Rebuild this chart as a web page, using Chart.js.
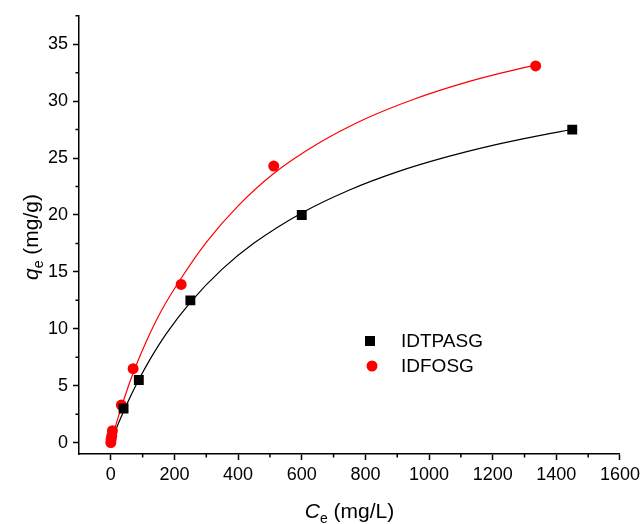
<!DOCTYPE html>
<html>
<head>
<meta charset="utf-8">
<script src="https://cdn.jsdelivr.net/npm/chart.js@4"></script>
<style>
  body { margin: 0; background: #fff; }
  canvas { display: block; }
</style>
</head>
<body>
<canvas id="grafica" width="644" height="524"></canvas>
<script>
// measured points
const idtpasgX = [40, 88, 250, 600, 1450];
const idtpasgY = [3.0, 5.5, 12.5, 20.0, 27.5];
const idfosgX = [0, 1, 3, 5, 33, 70, 221, 512, 1335];
const idfosgY = [0.0, 0.3, 0.6, 1.05, 3.3, 6.5, 13.9, 24.3, 33.1];

// fitted curves
const curvaNegraX = [0, 10, 25, 50, 85, 125, 175, 250, 350, 450, 600, 750, 900, 1050, 1200, 1350, 1450];
const curvaNegraY = [0, 0.72, 1.76, 3.36, 5.37, 7.4, 9.6, 12.33, 15.24, 17.53, 20.18, 22.2, 23.79, 25.06, 26.12, 27.0, 27.51];
const curvaRojaX = [0, 10, 25, 50, 75, 110, 160, 220, 300, 400, 510, 650, 800, 950, 1100, 1225, 1335];
const curvaRojaY = [0, 0.99, 2.39, 4.54, 6.47, 8.8, 11.65, 14.4, 17.6, 20.8, 23.6, 26.25, 28.45, 30.15, 31.52, 32.46, 33.19];

const xMajor = [0, 200, 400, 600, 800, 1000, 1200, 1400, 1600];
const yMajor = [0, 5, 10, 15, 20, 25, 30, 35];
const xMinor = [100, 300, 500, 700, 900, 1100, 1300, 1500];
const yMinor = [2.5, 7.5, 12.5, 17.5, 22.5, 27.5, 32.5, 37.5];

const nombres = ["IDTPASG", "IDFOSG"];

function puntos(xs, ys) {
  return xs.map((x, i) => ({ x: x, y: ys[i] }));
}

const fuente = "'Liberation Sans', Arial, sans-serif";

const extras = {
  id: "extras",
  afterDraw(chart) {
    const ctx = chart.ctx;
    const xs = chart.scales.x, ys = chart.scales.y;
    ctx.save();
    ctx.strokeStyle = "#000";
    ctx.lineWidth = 1.5;
    // minor ticks
    ctx.beginPath();
    xMinor.forEach(v => {
      const px = xs.getPixelForValue(v);
      ctx.moveTo(px, xs.top);
      ctx.lineTo(px, xs.top + 3.5);
    });
    yMinor.forEach(v => {
      const py = ys.getPixelForValue(v);
      ctx.moveTo(ys.right, py);
      ctx.lineTo(ys.right - 3.5, py);
    });
    ctx.stroke();

    // axis titles
    ctx.fillStyle = "#000";
    ctx.textBaseline = "alphabetic";
    const cx = (chart.chartArea.left + chart.chartArea.right) / 2;
    let partes = [
      { t: "C", f: "italic 21px " + fuente, dy: 0 },
      { t: "e", f: "14px " + fuente, dy: 5 },
      { t: " (mg/L)", f: "21px " + fuente, dy: 0 }
    ];
    escribir(ctx, partes, cx, 518);

    ctx.save();
    ctx.translate(38, 237);
    ctx.rotate(-Math.PI / 2);
    partes = [
      { t: "q", f: "italic 21px " + fuente, dy: 0 },
      { t: "e", f: "14px " + fuente, dy: 5 },
      { t: " (mg/g)", f: "21px " + fuente, dy: 0 }
    ];
    escribir(ctx, partes, 0, 0);
    ctx.restore();

    // legend
    ctx.font = "19px " + fuente;
    ctx.textBaseline = "middle";
    ctx.fillStyle = "#000";
    ctx.fillRect(365, 336, 10, 10);
    ctx.fillText(nombres[0], 401, 342);
    ctx.fillStyle = "#ff0000";
    ctx.beginPath();
    ctx.arc(372, 366, 5.5, 0, Math.PI * 2);
    ctx.fill();
    ctx.fillStyle = "#000";
    ctx.fillText(nombres[1], 401, 367);
    ctx.restore();
  }
};

function escribir(ctx, partes, cx, base) {
  let total = 0;
  partes.forEach(p => { ctx.font = p.f; total += ctx.measureText(p.t).width; });
  let x = cx - total / 2;
  partes.forEach(p => {
    ctx.font = p.f;
    ctx.fillText(p.t, x, base + p.dy);
    x += ctx.measureText(p.t).width;
  });
}

const miGrafica = document.getElementById("grafica").getContext("2d");

const chart = new Chart(miGrafica, {
  type: "scatter",
  data: {
    datasets: [
      {
        label: nombres[0],
        data: puntos(idtpasgX, idtpasgY),
        pointStyle: "rect",
        pointRadius: 7,
        backgroundColor: "#000",
        borderColor: "#000",
        borderWidth: 0,
        order: 0
      },
      {
        label: nombres[1],
        data: puntos(idfosgX, idfosgY),
        pointStyle: "circle",
        pointRadius: 5.5,
        backgroundColor: "#ff0000",
        borderColor: "#ff0000",
        borderWidth: 0,
        order: 1
      },
      {
        label: "ajuste " + nombres[0],
        data: puntos(curvaNegraX, curvaNegraY),
        showLine: true,
        pointRadius: 0,
        borderColor: "#000",
        borderWidth: 1.2,
        cubicInterpolationMode: "monotone",
        order: 2
      },
      {
        label: "ajuste " + nombres[1],
        data: puntos(curvaRojaX, curvaRojaY),
        showLine: true,
        pointRadius: 0,
        borderColor: "#ff0000",
        borderWidth: 1.2,
        cubicInterpolationMode: "monotone",
        order: 2
      }
    ]
  },
  options: {
    responsive: false,
    animation: false,
    layout: { padding: { top: 15, right: 19, left: 0, bottom: 0 } },
    plugins: {
      legend: { display: false },
      tooltip: { enabled: false }
    },
    scales: {
      x: {
        type: "linear",
        min: -100,
        max: 1600,
        afterBuildTicks: s => { s.ticks = xMajor.map(v => ({ value: v })); },
        afterFit: s => { s.height = 70; },
        border: { color: "#000", width: 1.5 },
        grid: { drawOnChartArea: false, color: "#000", tickLength: 6, tickWidth: 1.5 },
        ticks: { color: "#000", font: { family: fuente, size: 18 }, padding: 4, maxRotation: 0, callback: v => String(v) }
      },
      y: {
        type: "linear",
        min: -1,
        max: 37.5,
        afterBuildTicks: s => { s.ticks = yMajor.map(v => ({ value: v })); },
        afterFit: s => { s.width = 79; },
        border: { color: "#000", width: 1.5 },
        grid: { drawOnChartArea: false, color: "#000", tickLength: 6, tickWidth: 1.5 },
        ticks: { color: "#000", font: { family: fuente, size: 18 }, padding: 5, callback: v => String(v) }
      }
    }
  },
  plugins: [extras]
});
</script>
</body>
</html>
